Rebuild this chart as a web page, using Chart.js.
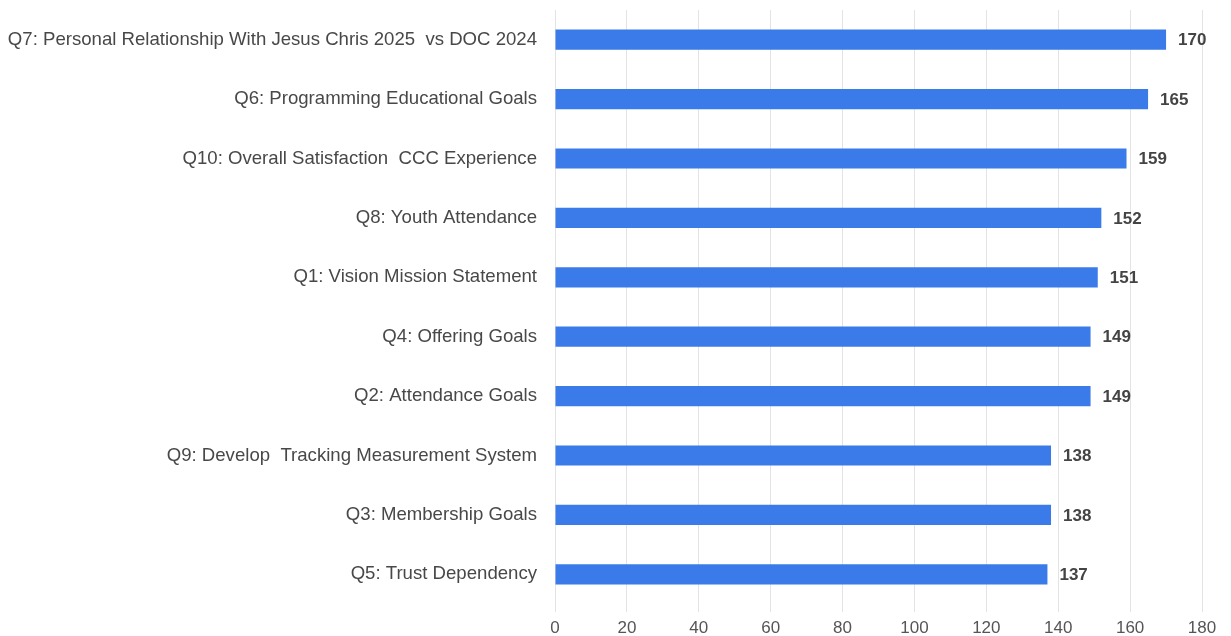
<!DOCTYPE html>
<html>
<head>
<meta charset="utf-8">
<script src="https://cdn.jsdelivr.net/npm/chart.js@4"></script>
<style>
html,body{margin:0;padding:0;background:#fff;}
#wrap{width:1231px;height:636px;position:relative;}
</style>
</head>
<body>
<div id="wrap"><canvas id="c"></canvas></div>
<script>
const categories = [
  "Q7: Personal Relationship With Jesus Chris 2025  vs DOC 2024",
  "Q6: Programming Educational Goals",
  "Q10: Overall Satisfaction  CCC Experience",
  "Q8: Youth Attendance",
  "Q1: Vision Mission Statement",
  "Q4: Offering Goals",
  "Q2: Attendance Goals",
  "Q9: Develop  Tracking Measurement System",
  "Q3: Membership Goals",
  "Q5: Trust Dependency"
];
const values = [170, 165, 159, 152, 151, 149, 149, 138, 138, 137];
const xTicks = [0, 20, 40, 60, 80, 100, 120, 140, 160, 180];

const FONT = "'Liberation Sans', Arial, sans-serif";

const dataLabels = {
  id: 'dataLabels',
  afterDatasetsDraw(chart) {
    const ctx = chart.ctx;
    const meta = chart.getDatasetMeta(0);
    ctx.save();
    ctx.font = "bold 17px " + FONT;
    ctx.fillStyle = "#444";
    ctx.textAlign = "left";
    ctx.textBaseline = "middle";
    meta.data.forEach((bar, i) => {
      ctx.fillText(String(values[i]), bar.x + 12, bar.y + 1);
    });
    ctx.restore();
  }
};

new Chart(document.getElementById('c'), {
  type: 'bar',
  data: {
    labels: categories,
    datasets: [{
      data: values,
      backgroundColor: '#3b7be9',
      borderWidth: 0,
      categoryPercentage: 1,
      barPercentage: 0.34
    }]
  },
  options: {
    indexAxis: 'y',
    responsive: true,
    maintainAspectRatio: false,
    animation: false,
    layout: { padding: { top: 10, right: 29, left: 0, bottom: 0 } },
    plugins: { legend: { display: false }, tooltip: { enabled: false } },
    scales: {
      x: {
        min: 0, max: 180,
        afterBuildTicks(scale) { scale.ticks = xTicks.map(v => ({ value: v })); },
        grid: { color: '#e3e3e3', drawTicks: true, tickLength: 8, tickColor: '#e3e3e3' },
        border: { display: false },
        ticks: { color: '#555', font: { family: FONT, size: 17 }, padding: 6 },
        afterFit(scale) { scale.height = 32; scale.paddingLeft = 0; scale.paddingRight = 0; }
      },
      y: {
        grid: { display: false, drawTicks: false },
        border: { display: false },
        ticks: { color: '#484848', font: { family: FONT, size: 18.6 }, padding: 18, autoSkip: false },
        afterFit(scale) { scale.width = 555; scale.paddingTop = 0; scale.paddingBottom = 0; }
      }
    }
  },
  plugins: [dataLabels]
});
</script>
</body>
</html>
